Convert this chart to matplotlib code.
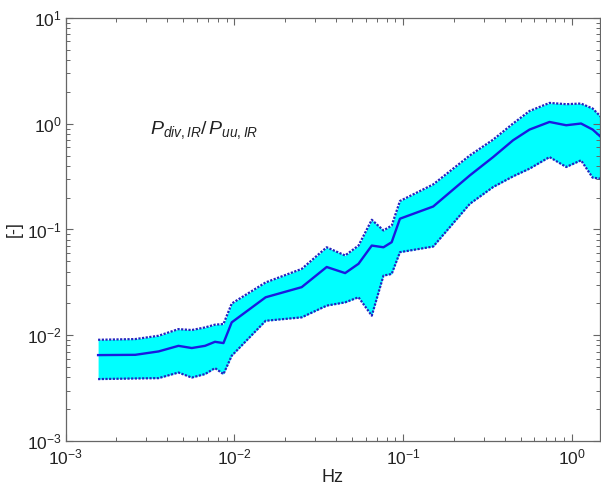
import matplotlib
matplotlib.use("Agg")
import matplotlib.pyplot as plt
import numpy as np

# Frequency (Hz)
freq = [0.00156, 0.00259, 0.00356, 0.00467, 0.0056, 0.00671, 0.00769, 0.00863,
        0.00966, 0.01535, 0.0251, 0.0353, 0.0454, 0.0545, 0.0653, 0.0766,
        0.0857, 0.0959, 0.151, 0.249, 0.342, 0.449, 0.562, 0.738, 0.927,
        1.135, 1.33, 1.5]
# Mean ratio
mean_vals = [0.00649, 0.00653, 0.00703, 0.00794, 0.00757, 0.00794, 0.00867, 0.00843,
             0.01324, 0.02286, 0.0285, 0.0442, 0.0387, 0.0474, 0.0705, 0.0679,
             0.0759, 0.1265, 0.165, 0.325, 0.484, 0.698, 0.881, 1.04, 0.968,
             1.005, 0.881, 0.741]
# Upper bound
upper_vals = [0.00906, 0.0092, 0.00989, 0.01143, 0.0112, 0.01186, 0.01259, 0.01276,
              0.01995, 0.0316, 0.0424, 0.0679, 0.0568, 0.0705, 0.1236, 0.098,
              0.109, 0.186, 0.267, 0.502, 0.708, 1.005, 1.32, 1.574, 1.531,
              1.552, 1.393, 1.148]
# Lower bound
lower_vals = [0.00385, 0.0039, 0.00393, 0.00444, 0.00398, 0.00429, 0.00489, 0.00429,
              0.0064, 0.0137, 0.01476, 0.01905, 0.02046, 0.02286, 0.01531, 0.0366,
              0.038, 0.061, 0.069, 0.175, 0.252, 0.318, 0.376, 0.484, 0.39,
              0.451, 0.309, 0.302]

xtick_vals = [1e-3, 1e-2, 1e-1, 1e0]
xtick_labels = [r'$10^{-3}$', r'$10^{-2}$', r'$10^{-1}$', r'$10^{0}$']
ytick_vals = [1e-3, 1e-2, 1e-1, 1e0, 1e1]
ytick_labels = [r'$10^{-3}$', r'$10^{-2}$', r'$10^{-1}$', r'$10^{0}$', r'$10^{1}$']

plt.rcParams['font.family'] = ['Liberation Sans', 'DejaVu Sans']
plt.rcParams['mathtext.fontset'] = 'custom'
plt.rcParams['mathtext.rm'] = 'Liberation Sans'
plt.rcParams['mathtext.it'] = 'Liberation Sans:italic'
plt.rcParams['mathtext.bf'] = 'Liberation Sans:bold'

fig = plt.figure(figsize=(6.01, 4.90), dpi=100)
ax = fig.add_axes([65.5/601, 49/490, 534.5/601, 423/490])

ax.fill_between(freq, lower_vals, upper_vals, color='#00ffff', linewidth=0, zorder=1)
ax.plot(freq, upper_vals, color='#2424c0', linestyle=(0, (1, 0.65)), linewidth=1.6, zorder=2)
ax.plot(freq, lower_vals, color='#2424c0', linestyle=(0, (1, 0.65)), linewidth=1.6, zorder=2)
ax.plot(freq, mean_vals, color='#1a1ae0', linewidth=1.7, zorder=3)

ax.set_xscale('log')
ax.set_yscale('log')
ax.set_xlim(1e-3, 1.47)
ax.set_ylim(1e-3, 1e1)

ax.set_xticks(xtick_vals)
ax.set_xticklabels(xtick_labels)
ax.set_yticks(ytick_vals)
ax.set_yticklabels(ytick_labels)

ax.tick_params(which='both', direction='in', top=True, right=True, colors='#666666',
               labelcolor='#222222', labelsize=12.5)
ax.tick_params(axis='y', which='both', pad=2.5)
ax.tick_params(axis='x', which='both', pad=5)
ax.tick_params(which='major', length=5, width=0.8)
ax.tick_params(which='minor', length=3, width=0.7)
for s in ax.spines.values():
    s.set_color('#666666')
    s.set_linewidth(0.9)

ax.set_xlabel('Hz', fontsize=13, color='#222222', labelpad=1)
ax.set_ylabel('[-]', fontsize=13, color='#222222', labelpad=3)

ax.text(0.00318, 0.87, r'$P_{div,IR}/\,P_{uu,IR}$', fontsize=14, color='#222222',
        ha='left', va='center')

fig.savefig('out.png', dpi=100)
